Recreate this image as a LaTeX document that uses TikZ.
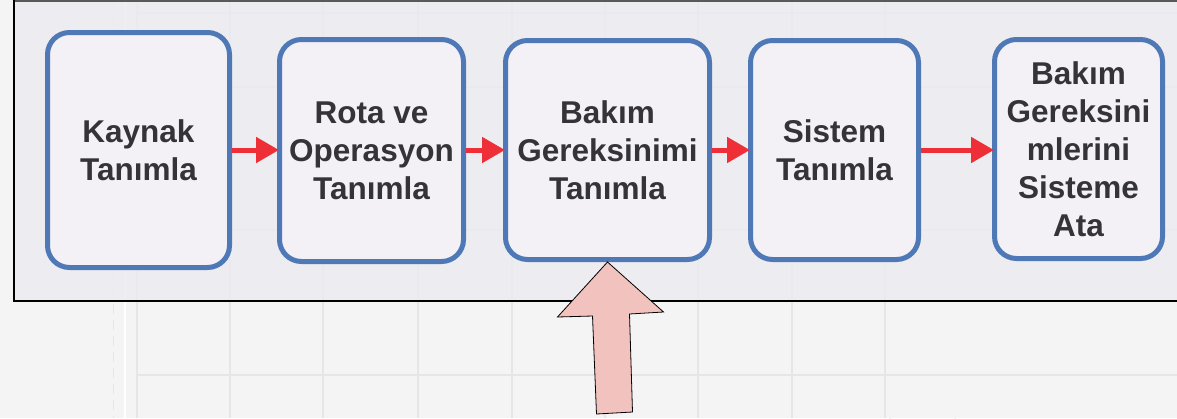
\documentclass[tikz,border=0pt]{standalone}
\usepackage{fontspec}
\setmainfont{Liberation Sans}
\usetikzlibrary{arrows.meta}
\definecolor{pagebg}{HTML}{F4F4F4}
\definecolor{gridc}{HTML}{E6E6E8}
\definecolor{framebg}{HTML}{ECEAF0}
\definecolor{boxfill}{HTML}{F3F1F6}
\definecolor{boxline}{HTML}{4F79B6}
\definecolor{txt}{HTML}{333338}
\definecolor{redarr}{HTML}{EE2F37}
\definecolor{pinkarr}{HTML}{F2C2BE}
\tikzset{
  stepbox/.style={draw=boxline, line width=5pt, fill=boxfill, rounded corners=22pt,
    text=txt, align=center, inner sep=0pt,
    font=\fontsize{31.5}{38}\selectfont\bfseries},
  flowarrow/.style={draw=redarr, line width=5pt,
    -{Triangle[length=23pt,width=25pt]}, redarr},
}
\begin{document}
\begin{tikzpicture}[x=1pt,y=-1pt]
\useasboundingbox (0,0) rectangle (1177,418);
% page background with faint grid
\fill[pagebg] (0,0) rectangle (1177,418);
\foreach \gx in {137,230,323,418,512,605,698,792,885}
  \draw[gridc, line width=1.5pt] (\gx,0) -- (\gx,418);
\foreach \gy in {13,87,230,375}
  \draw[gridc, line width=1.5pt] (137,\gy) -- (1177,\gy);
\draw[white, line width=1.5pt] (125,0) -- (125,418);
\draw[gridc, line width=1pt, dash pattern=on 10pt off 6pt] (113,0) -- (113,418);
\draw[gridc, line width=1pt] (890,418) arc[start angle=0, end angle=60, radius=420];
\draw[gridc, line width=1pt] (955,418) arc[start angle=0, end angle=55, radius=480];
\draw[gridc, line width=1pt] (0,358) arc[start angle=225, end angle=200, radius=420];
% frame
\fill[framebg, fill opacity=0.8] (14,0) rectangle (1177,301);
\draw[black!65, line width=1.5pt] (14,0.75) -- (1177,0.75);
\draw[black, line width=1.8pt] (14,0) -- (14,301) -- (1177,301);
% steps
\node[stepbox, minimum width=182pt, minimum height=235pt] (b1) at (138.5,150) {Kaynak\\Tanımla};
\node[stepbox, minimum width=184pt, minimum height=222pt] (b2) at (371.5,150.5) {Rota ve\\Operasyon\\Tanımla};
\node[stepbox, minimum width=204pt, minimum height=219pt] (b3) at (607.5,150) {Bakım\\Gereksinimi\\Tanımla};
\node[stepbox, minimum width=168pt, minimum height=219pt] (b4) at (834.5,150) {Sistem\\Tanımla};
\node[stepbox, minimum width=168pt, minimum height=219pt] (b5) at (1078.5,149) {Bakım\\Gereksini\\mlerini\\Sisteme\\Ata};
% connectors
\draw[flowarrow, shorten >=-2pt] (b1.east |- 0,150) -- (b2.west |- 0,150);
\draw[flowarrow, shorten >=-2pt] (b2.east |- 0,150) -- (b3.west |- 0,150);
\draw[flowarrow, shorten >=-2pt] (b3.east |- 0,150) -- (b4.west |- 0,150);
\draw[flowarrow, shorten >=-2pt] (b4.east |- 0,150) -- (b5.west |- 0,150);
% big block arrow into b3
\coordinate (tip) at (b3.south);
\draw[black, line width=0.8pt, fill=pinkarr, line join=miter]
  (tip) -- ([shift={(56,50)}]tip) -- ([shift={(22,52)}]tip)
  -- ([shift={(25,150)}]tip) -- ([shift={(-11,152)}]tip)
  -- ([shift={(-15,54)}]tip) -- ([shift={(-50,55)}]tip) -- cycle;
\end{tikzpicture}
\end{document}
